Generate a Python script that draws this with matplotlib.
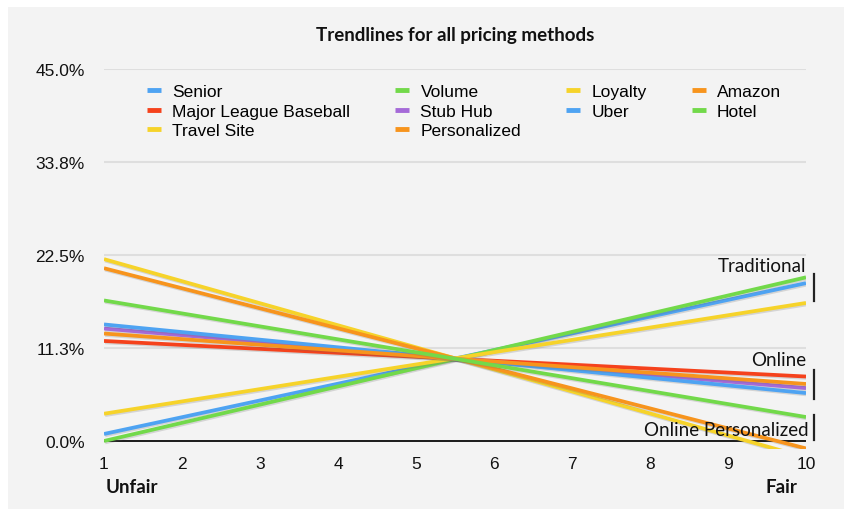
import matplotlib
matplotlib.use("Agg")
import matplotlib.pyplot as plt
import matplotlib.patheffects as pe
from matplotlib.lines import Line2D
from matplotlib.patches import Rectangle

# Trendline values (% share) at rating 1 (unfair) and rating 10 (fair)
methods = ["Senior", "Major League Baseball", "Travel Site", "Volume", "Stub Hub",
           "Personalized", "Loyalty", "Uber", "Amazon", "Hotel"]
start_vals = [0.85, 12.1, 22.0, 0.0, 13.6, 20.9, 3.3, 14.1, 13.0, 17.0]
end_vals = [19.1, 7.8, -2.0, 19.8, 6.4, -0.9, 16.7, 5.8, 6.9, 2.9]
colors = ["#4ea3f2", "#f5421c", "#f6d32a", "#72d94a", "#a56ad8",
          "#f7941d", "#f6d32a", "#4ea3f2", "#f7941d", "#72d94a"]

x_ends = [1, 10]
x_ticks = list(range(1, 11))
y_ticks = [0.0, 11.25, 22.5, 33.75, 45.0]
y_labels = ["0.0%", "11.3%", "22.5%", "33.8%", "45.0%"]

BG = "#f3f3f3"
W, H = 845, 510

fig = plt.figure(figsize=(W / 100, H / 100), dpi=100)
fig.patch.set_facecolor("white")
fig.patches.append(Rectangle((8 / W, 0), 1, (H - 8) / H, transform=fig.transFigure,
                             facecolor=BG, edgecolor="none", zorder=-10))

# axes: x 1..10 spans px 104..806, y 0 at px 442, 45 at px 70
ymin = -1.0
ppu = (442 - 70) / 45.0
bottom_px = 442 + (-ymin) * ppu
ax = fig.add_axes([104 / W, (H - bottom_px) / H, 702 / W, (bottom_px - 70) / H])
ax.set_facecolor("none")
ax.set_xlim(1, 10)
ax.set_ylim(ymin, 45)
for s in ax.spines.values():
    s.set_visible(False)

for yt in y_ticks[1:]:
    ax.axhline(yt, color="#dedede", lw=1.5, zorder=0)
ax.axhline(0, color="#1a1a1a", lw=1.4, zorder=1)

shadow = [pe.SimpleLineShadow(offset=(0.8, -1.0), shadow_color="#666666", alpha=0.22),
          pe.Normal()]
for name, a, b, c in zip(methods, start_vals, end_vals, colors):
    ax.plot(x_ends, [a, b], color=c, lw=2.7, solid_capstyle="butt",
            path_effects=shadow, zorder=3)

tick_font = {"family": "Liberation Sans", "size": 12.5}
ax.set_xticks(x_ticks)
ax.set_xticklabels([str(t) for t in x_ticks], fontdict=tick_font)
ax.set_yticks(y_ticks)
ax.set_yticklabels(y_labels, fontdict=tick_font)
ax.tick_params(axis="y", length=0, pad=14, colors="#111111")
ax.tick_params(axis="x", length=0, pad=5, colors="#111111")

fig.text(455 / W, (H - 35) / H, "Trendlines for all pricing methods", family="Lato",
         fontsize=13.5, fontweight="bold", ha="center", va="center", color="#111111")

handles = [Line2D([], [], color=c, lw=3.5, solid_capstyle="butt") for c in colors]
fig.legend(handles, methods, loc="upper left", bbox_to_anchor=(147 / W, (H - 85) / H),
           ncol=4, frameon=False, prop={"family": "Liberation Sans", "size": 12.5},
           handlelength=0.8, handletextpad=0.65, columnspacing=2.6, labelspacing=0.25,
           borderpad=0, borderaxespad=0)

# group labels and brackets on the right
grp_font = dict(family="Lato", fontsize=13.5, color="#111111", ha="right", va="center")
ax.text(10, 21.2, "Traditional", **grp_font)
ax.text(10, 9.8, "Online", **grp_font)
ax.text(10.03, 1.45, "Online Personalized", **grp_font)
for lo, hi in [(16.9, 20.2), (5.1, 8.6), (0.1, 3.2)]:
    ax.plot([10.1, 10.1], [lo, hi], color="#222222", lw=1.6, clip_on=False)

fig.text(106 / W, (H - 488) / H, "Unfair", family="Lato", fontweight="bold",
         fontsize=13.5, ha="left", va="center", color="#111111")
fig.text(797 / W, (H - 488) / H, "Fair", family="Lato", fontweight="bold",
         fontsize=13.5, ha="right", va="center", color="#111111")

fig.savefig("out.png", dpi=100, facecolor=fig.get_facecolor())
